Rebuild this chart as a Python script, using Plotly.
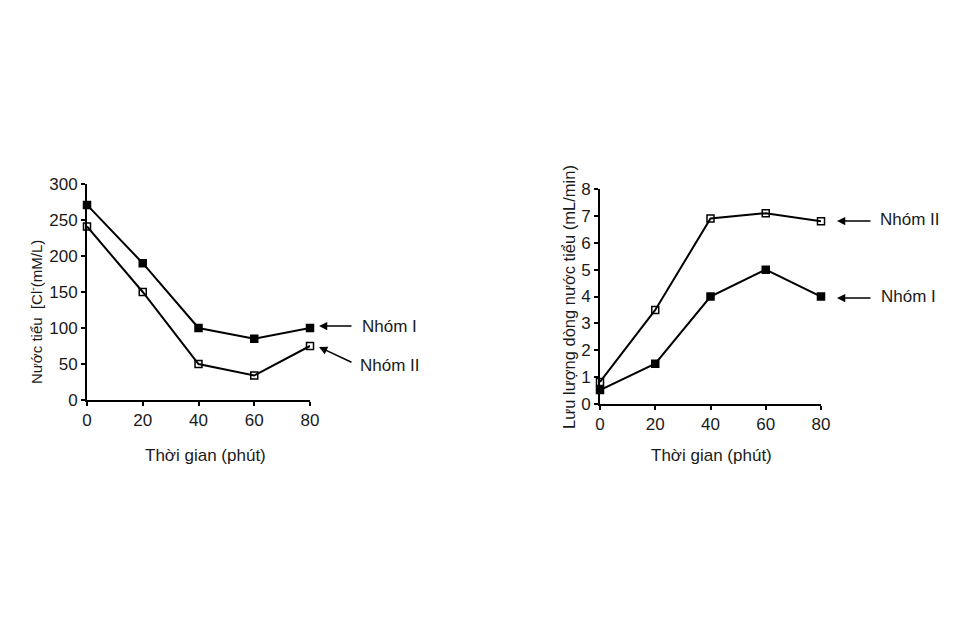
import plotly.graph_objects as go

# time points (minutes)
thoi_gian = [0, 20, 40, 60, 80]

# left panel: urine [Cl-] (mM/L)
cl_nhom1 = [271, 190, 100, 85, 100]
cl_nhom2 = [241, 150, 50, 34, 75]

# right panel: urine flow (mL/min)
flow_nhom1 = [0.52, 1.5, 4.0, 5.0, 4.0]
flow_nhom2 = [0.82, 3.5, 6.9, 7.1, 6.8]

x_ticks = [0, 20, 40, 60, 80]
cl_ticks = [0, 50, 100, 150, 200, 250, 300]
flow_ticks = [0, 1, 2, 3, 4, 5, 6, 7, 8]

FONT = "Liberation Sans, Arial, sans-serif"
INK = "#1a1a1a"
W, H = 953, 626
OFF = 8  # page body margin shifts the plot by this much


def px(v):
    return (v - OFF) / W


def py(v):
    return 1 - (v - OFF) / H


fig = go.Figure()


def add_series(x, y, xa, ya, symbol):
    fig.add_trace(go.Scatter(
        x=x, y=y, xaxis=xa, yaxis=ya, mode="lines+markers",
        line=dict(color="black", width=2),
        marker=dict(symbol=symbol, size=7, color="black",
                    line=dict(color="black", width=1.5)),
        cliponaxis=False, showlegend=False,
    ))


add_series(thoi_gian, cl_nhom1, "x", "y", "square")
add_series(thoi_gian, cl_nhom2, "x", "y", "square-open")
add_series(thoi_gian, flow_nhom1, "x2", "y2", "square")
add_series(thoi_gian, flow_nhom2, "x2", "y2", "square-open")

axis_style = dict(
    showline=True, linecolor="black", linewidth=2, mirror=False,
    showgrid=False, zeroline=False, ticks="outside", ticklen=4,
    tickwidth=1.5, tickcolor="black", fixedrange=True, automargin=False,
    tickfont=dict(family=FONT, size=17, color=INK),
)

fig.update_layout(
    width=W, height=H,
    margin=dict(l=0, r=0, t=0, b=0),
    paper_bgcolor="white", plot_bgcolor="white",
    xaxis=dict(axis_style, domain=[px(87), px(310)], range=[0, 80],
               tickvals=x_ticks, anchor="y"),
    yaxis=dict(axis_style, domain=[py(400), py(184)], range=[0, 300],
               tickvals=cl_ticks, anchor="x"),
    xaxis2=dict(axis_style, domain=[px(600), px(821)], range=[0, 80],
                tickvals=x_ticks, anchor="y2"),
    yaxis2=dict(axis_style, domain=[py(404), py(189)], range=[0, 8],
                tickvals=flow_ticks, anchor="x2"),
)

label_font = dict(family=FONT, size=17, color=INK)
title_font = dict(family=FONT, size=17, color=INK)


def text_at(txt, x, y, font, xanchor="center", angle=0):
    return dict(text=txt, xref="paper", yref="paper", x=px(x), y=py(y),
                xanchor=xanchor, yanchor="middle", showarrow=False,
                textangle=angle, font=font)


notes = [
    # axis titles
    text_at("Thời gian (phút)", 205, 455, title_font),
    text_at("Thời gian (phút)", 711, 455, title_font),
    text_at("Nước tiểu  [Cl<sup>-</sup>(mM/L)", 35, 312,
            dict(family=FONT, size=15, color=INK), angle=-90),
    text_at("Lưu lượng dòng nước tiểu (mL/min)", 569, 297,
            dict(family=FONT, size=16.5, color=INK), angle=-90),
    # group labels
    text_at("Nhóm I", 360, 326, label_font, xanchor="left"),
    text_at("Nhóm II", 358, 365, label_font, xanchor="left"),
    text_at("Nhóm II", 878, 219, label_font, xanchor="left"),
    text_at("Nhóm I", 879, 297, label_font, xanchor="left"),
]

# arrows: head (x, y) in page pixels and tail offset (dx, dy) in pixels
arrows = [
    (319, 326, 34, 0),
    (319, 347, 34, 16),
    (837, 221, 35, 0),
    (837, 298, 35, 0),
]
for hx, hy, dx, dy in arrows:
    notes.append(dict(
        text="", xref="paper", yref="paper", x=px(hx), y=py(hy),
        ax=dx, ay=dy, showarrow=True, arrowhead=2, arrowsize=1.1,
        arrowwidth=1.5, arrowcolor="black", standoff=0,
    ))

fig.update_layout(annotations=notes)

fig.write_html("out.html")
